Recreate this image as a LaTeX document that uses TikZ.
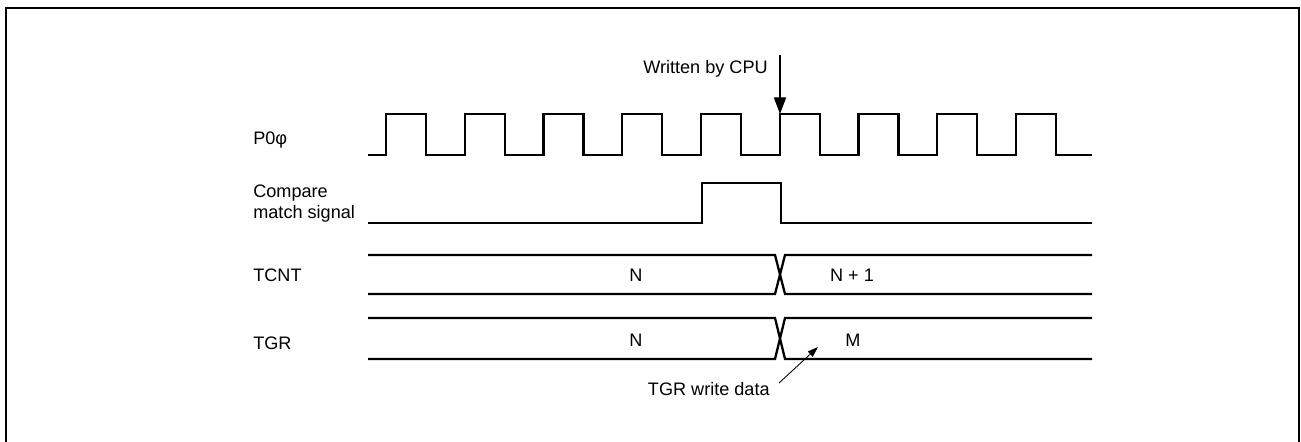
\documentclass[tikz,border=0pt]{standalone}
\usepackage{fontspec}
\setmainfont{Liberation Sans}
\usetikzlibrary{arrows.meta}

\tikzset{
  lbl/.style={font=\fontsize{10.3}{11.9}\selectfont, inner sep=0pt},
  sig/.style={line width=1.3pt, line join=miter},
  thin/.style={line width=0.6pt}
}

\begin{document}
\begin{tikzpicture}[x=0.02cm, y=-0.02cm]
            \useasboundingbox (0,0) rectangle (1301,441);
            \draw[line width=1.2pt] (6,8) rectangle (1299,448);

            % signal names
            \node[lbl, anchor=west] (p0phi) at (253,140) {P0φ};
            \node[lbl, anchor=west, align=left] (cmp) at (253,204) {Compare\\match signal};
            \node[lbl, anchor=west] (tcnt) at (253,275) {TCNT};
            \node[lbl, anchor=west] (tgr) at (253,343) {TGR};

            % P0 clock
            \draw[sig] (368,155) foreach \k in {0,...,8}{
                -- ({386+78.75*\k},155) -- ++(0,-41) -- ++(40,0) -- ++(0,41)}
                -- (1092,155);

            % compare match pulse
            \draw[sig] (368,223) -- (702,223) -- (702,183) -- (781,183)
                -- (781,223) -- (1092,223);

            % TCNT bus
            \draw[sig] (368,255) -- (775,255) -- (785,294) -- (1092,294);
            \draw[sig] (368,294) -- (775,294) -- (785,255) -- (1092,255);
            \node[lbl] (tcntN) at (636,275) {N};
            \node[lbl] (tcntN1) at (852,275) {N + 1};

            % TGR bus
            \draw[sig] (368,318) -- (775,318) -- (785,359) -- (1092,359);
            \draw[sig] (368,359) -- (775,359) -- (785,318) -- (1092,318);
            \node[lbl] (tgrN) at (636,340) {N};
            \node[lbl] (tgrM) at (853,340) {M};

            % write by CPU
            \node[lbl, anchor=base east] (cpu) at (768,73) {Written by CPU};
            \coordinate (cpuTop) at (780,55);
            \coordinate (cpuTip) at (780,114);
            \draw[thin, -{Triangle[length=9.5pt,width=7pt]}] (cpuTop) -- (cpuTip);

            % TGR write data
            \node[lbl, anchor=east] (wdata) at (770,389) {TGR write data};
            \coordinate (wdFrom) at (779,383);
            \coordinate (wdTo) at (818,347);
            \draw[line width=0.5pt, -{Triangle[length=6pt,width=4pt]}] (wdFrom) -- (wdTo);
\end{tikzpicture}
\end{document}
